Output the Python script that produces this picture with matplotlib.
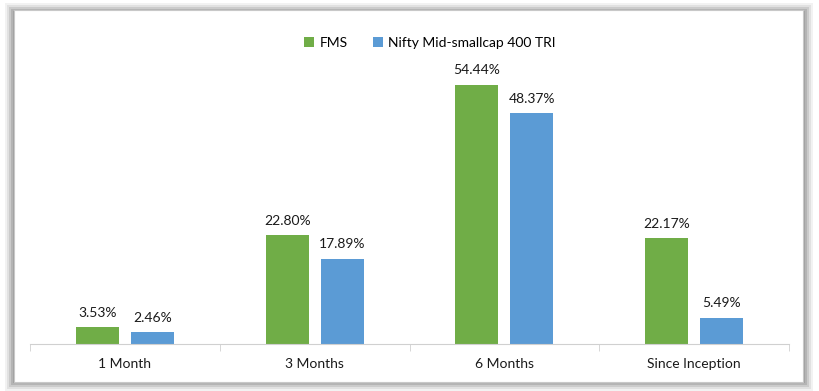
import numpy as np
import matplotlib.pyplot as plt
from matplotlib.patches import Rectangle

# Данные
categories = ['1 Month', '3 Months', '6 Months', 'Since Inception']
fms = [3.53, 22.80, 54.44, 22.17]
nifty = [2.46, 17.89, 48.37, 5.49]
series_names = ['FMS', 'Nifty Mid-smallcap 400 TRI']

green = '#70AD47'
blue = '#5B9BD5'

plt.rcParams['font.family'] = ['Lato', 'DejaVu Sans']

W, H = 819, 391
fig = plt.figure(figsize=(W / 100, H / 100), dpi=100)


def px_rect(x0, y0, x1, y1, **kw):
    # прямоугольник в пикселях (отсчёт сверху)
    return Rectangle((x0 / W, 1 - y1 / H), (x1 - x0) / W, (y1 - y0) / H,
                     transform=fig.transFigure, **kw)


# размытая тень вокруг рамки
bx0, by0, bx1, by1 = 14, 10, 803, 382
for d, a in [(9, 0.10), (7, 0.15), (5, 0.22), (3, 0.30), (1, 0.35)]:
    fig.patches.append(px_rect(bx0 - d, by0 - d + 2, bx1 + d + 1, by1 + d,
                               facecolor='#808080', edgecolor='none', alpha=a, zorder=0))
fig.patches.append(px_rect(bx0, by0, bx1, by1, facecolor='white',
                           edgecolor='#c8c8c8', linewidth=0.8, zorder=1))

ax = fig.add_axes([30 / W, 1 - 344 / H, 759 / W, 286 / H])
ax.set_zorder(2)
ax.patch.set_alpha(0)

x = np.arange(len(categories))
w = 0.227
off = 0.145
b1 = ax.bar(x - off, fms, w, color=green, label=series_names[0])
b2 = ax.bar(x + off, nifty, w, color=blue, label=series_names[1])

for bars, vals in ((b1, fms), (b2, nifty)):
    for r, v in zip(bars, vals):
        ax.annotate(f'{v:.2f}%', (r.get_x() + r.get_width() / 2, v),
                    xytext=(0, 6), textcoords='offset points',
                    ha='center', va='bottom', fontsize=10, color='#1a1a1a')

ax.set_xlim(-0.5, 3.5)
ax.set_ylim(0, 60)
ax.set_yticks([])
for s in ['top', 'right', 'left']:
    ax.spines[s].set_visible(False)
ax.spines['bottom'].set_color('#d0d0d0')

ax.set_xticks(x)
ax.set_xticklabels(categories, fontsize=10, color='#1a1a1a')
ax.tick_params(axis='x', which='major', length=0, pad=10)
ax.set_xticks(np.arange(-0.5, 4, 1), minor=True)
ax.tick_params(axis='x', which='minor', length=5, color='#d0d0d0')

fig.legend(loc='center', bbox_to_anchor=(0.525, 0.89), ncol=2, frameon=False,
           fontsize=10, handlelength=0.7, handleheight=0.7, columnspacing=1.8,
           handletextpad=0.4)

plt.savefig('out.png', dpi=100)
